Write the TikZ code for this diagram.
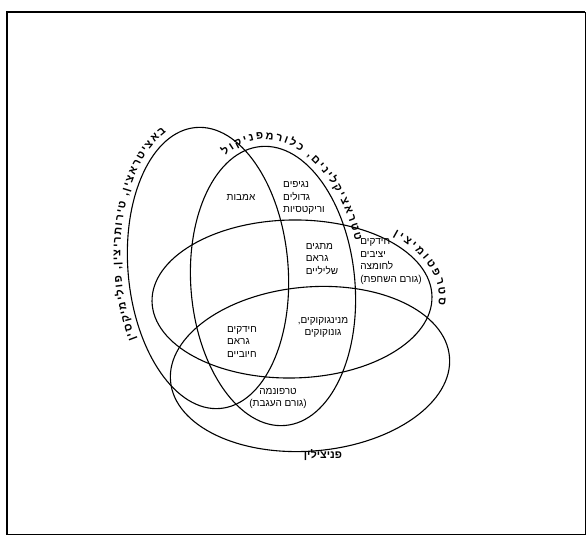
\documentclass[tikz,border=0pt]{standalone}
\usepackage{fontspec}
\newfontfamily\heb[Script=Hebrew]{Liberation Sans}
\newfontfamily\lat{Liberation Sans}
\TeXXeTstate=1
\usetikzlibrary{decorations.text}
\newcommand{\hebR}[1]{\beginR #1\endR}
\newcommand{\lp}{{\lat(}}
\newcommand{\rp}{{\lat)}}
\newcommand{\cm}{{\lat,}}
\begin{document}
\begin{tikzpicture}[x=1pt,y=1pt,
  ell/.style={draw=black, line width=1.1pt},
  region/.style={font=\heb\fontsize{10}{12.5}\selectfont, inner sep=0pt},
  setlabel/.style={font=\heb\bfseries\fontsize{11}{13}\selectfont, inner sep=0pt}]
\useasboundingbox (0,0) rectangle (588,537);
% frame
\draw[line width=2.2pt] (7,2) -- (7,525) -- (585,525);
\draw[line width=0.8pt] (585,525) -- (585,3) -- (7,3);
% ellipses
\draw[ell, rotate around={5:(208,269)}] (208,269) ellipse [x radius=80, y radius=141];
\draw[ell, rotate around={5:(273,251)}] (273,251) ellipse [x radius=82, y radius=140];
\draw[ell, rotate around={1:(292,238)}] (292,238) ellipse [x radius=140, y radius=79];
\draw[ell, rotate around={5:(310,168)}] (310,168) ellipse [x radius=140, y radius=82];
% curved set labels (characters given in visual order, left to right along the path)
\path[rotate around={5:(208,269)}, decorate, decoration={text along path, text align=fit to path,
  text={|\heb\bfseries\fontsize{11}{13}\selectfont|ןיסקימילופ ,ןיצירתוריט ,ןיצארטיצאב}}]
  (208,269) ++(206:87 and 148) arc[start angle=206, end angle=110, x radius=87, y radius=148];
\path[rotate around={5:(273,251)}, decorate, decoration={text along path, text align=fit to path,
  text={|\heb\bfseries\fontsize{11}{13}\selectfont|לוקינפמרולכ ,םינילקיצארטט}}]
  (273,251) ++(114:89 and 147) arc[start angle=114, end angle=15, x radius=89, y radius=147];
\path[rotate around={1:(292,238)}, decorate, decoration={text along path, text align=fit to path,
  text={|\heb\bfseries\fontsize{11}{13}\selectfont|ןיצימוטפרטס}}]
  (292,238) ++(46:147 and 86) arc[start angle=46, end angle=-6, x radius=147, y radius=86];
\node[setlabel] (penicillin) at (323,82) {\hebR{פניצילין}};
% region labels
\node[region] (amoeba) at (241,340) {\hebR{אמבות}};
\node[region, align=left] (viruses) at (304,339) {\hebR{נגיפים}\\\hebR{גדולים}\\\hebR{וריקטסיות}};
\node[region, align=left] (rods) at (322,278) {\hebR{מתגים}\\\hebR{גראם}\\\hebR{שליליים}};
\node[region, align=left] (acidfast) at (391,275.5) {\hebR{חידקים}\\\hebR{יציבים}\\\hebR{לחומצה}\\\lp\hebR{גורם השחפת}\rp};
\node[region, align=center] (meningo) at (323,209.5) {\cm\hebR{מנינגוקוקים}\\\hebR{גונוקוקים}};
\node[region, align=left] (grampos) at (242,195) {\hebR{חידקים}\\\hebR{גראם}\\\hebR{חיוביים}};
\node[region, align=center] (trep) at (278,138.5) {\hebR{טרפונמה}\\\lp\hebR{גורם העגבת}\rp};
\end{tikzpicture}
\end{document}
